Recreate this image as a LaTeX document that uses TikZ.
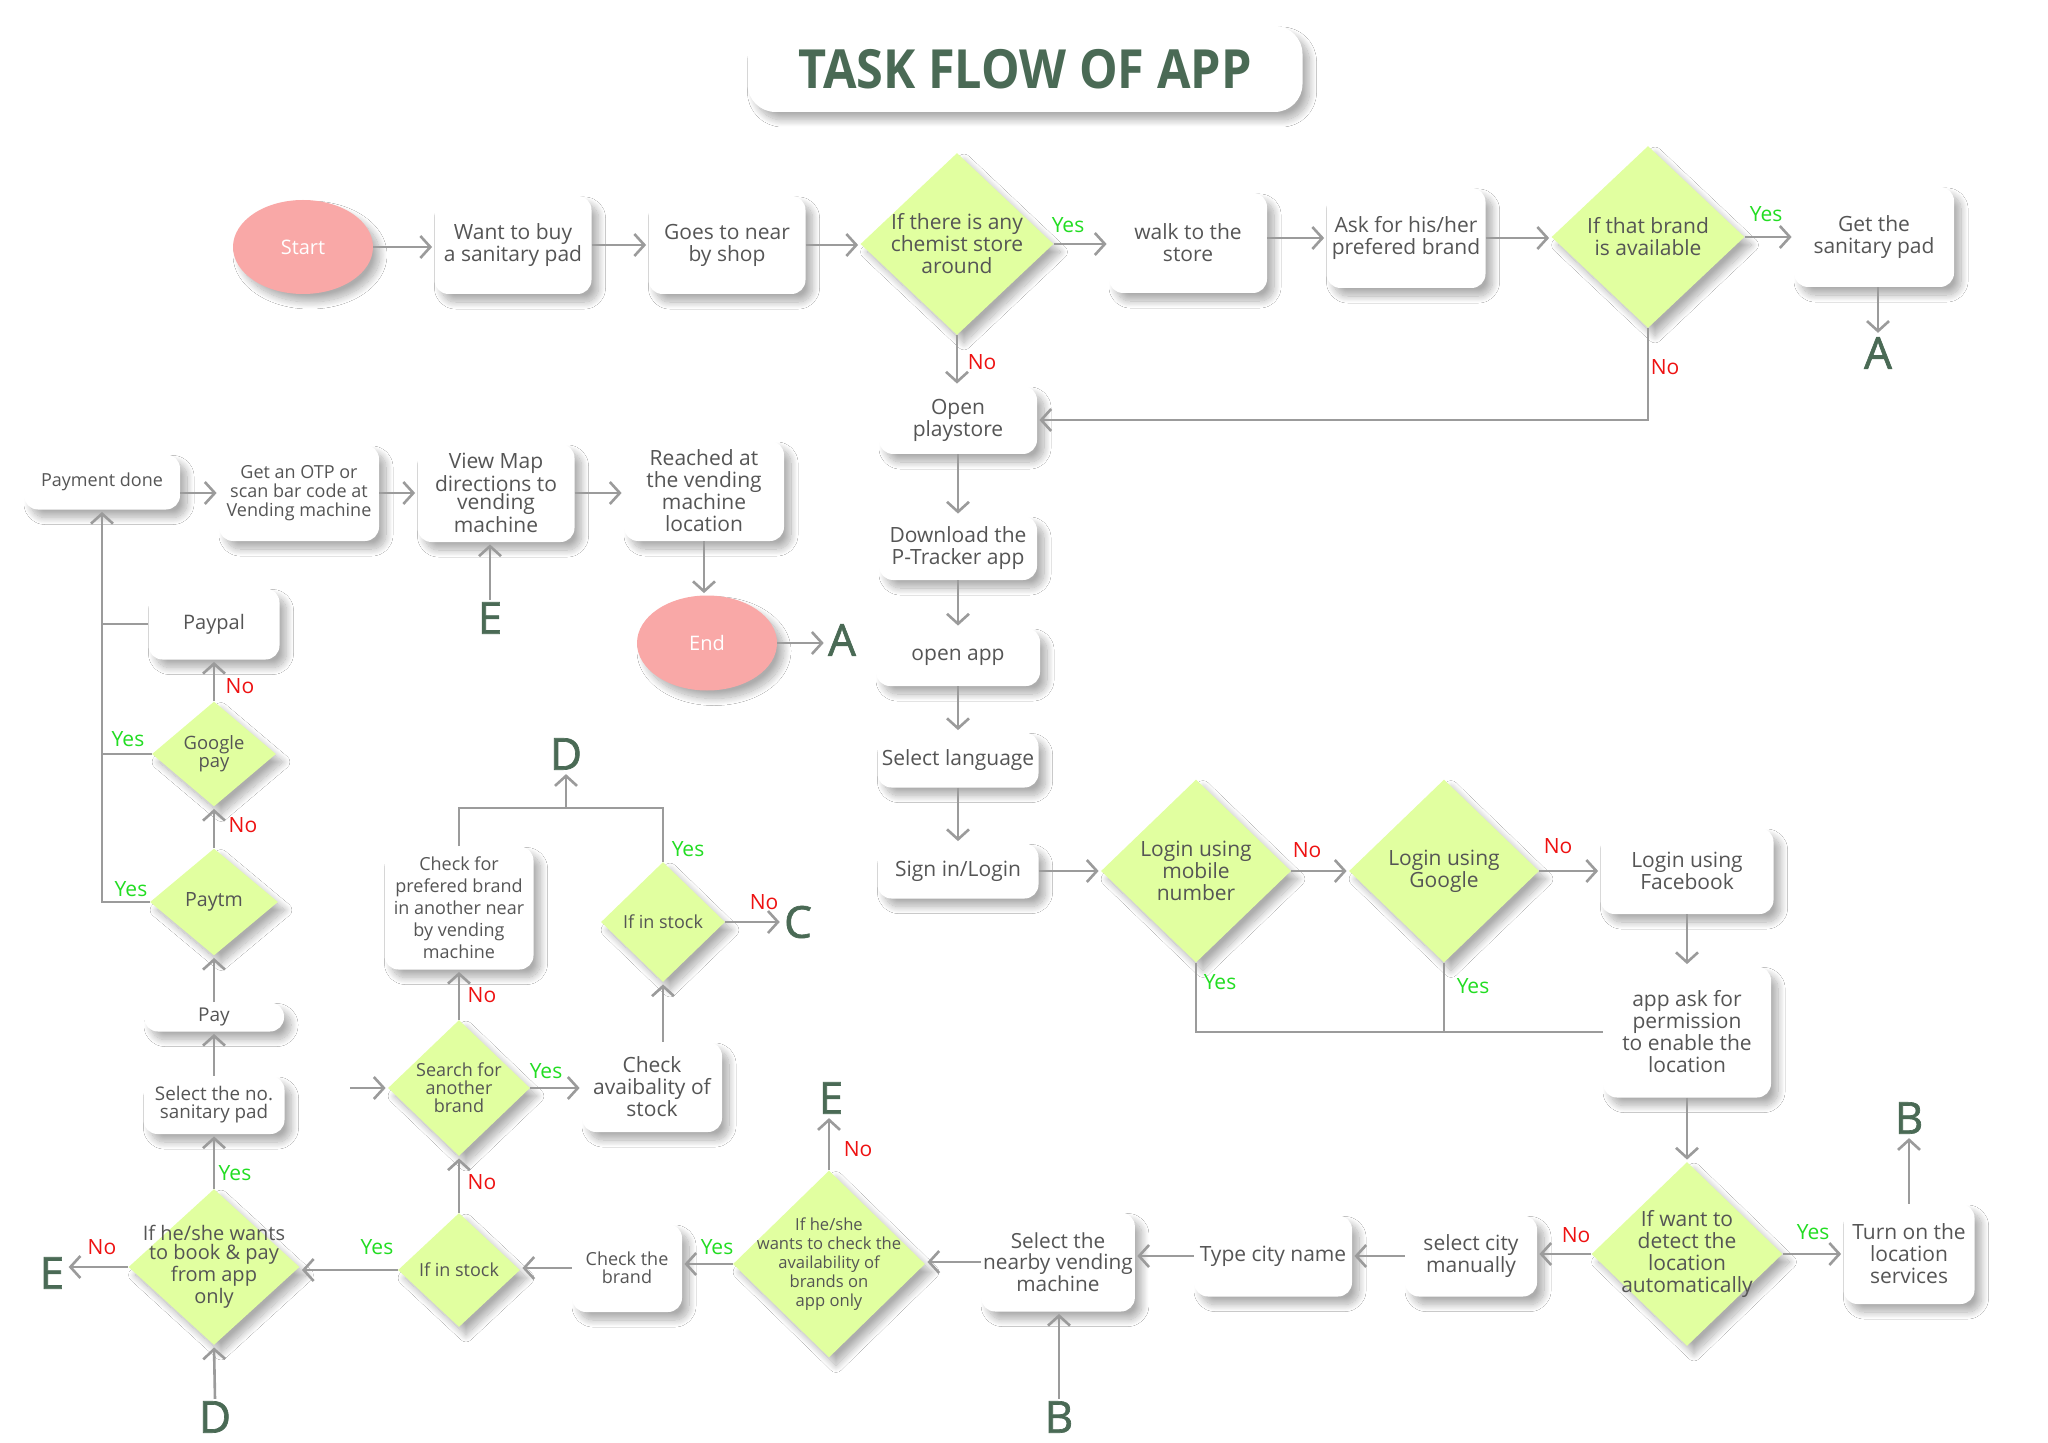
\documentclass[tikz,border=0pt]{standalone}
\usepackage{fontspec}
\setmainfont{Open Sans}
\newfontfamily\titlefont{Open Sans}[FakeStretch=0.9]
\newfontfamily\letterfont{Open Sans}[FakeBold=1.5]
\usetikzlibrary{shapes.geometric,arrows.meta,shadows.blur,calc}
\definecolor{txtc}{HTML}{555555}
\definecolor{linec}{HTML}{9B9B9B}
\definecolor{diac}{HTML}{E1FFA0}
\definecolor{pinkc}{HTML}{F9A8A7}
\definecolor{darkg}{HTML}{4A6A55}
\definecolor{yesc}{HTML}{22DD22}
\definecolor{noc}{HTML}{EE1111}
\newcommand\myfs[2]{\fontsize{#1pt}{#2pt}\selectfont}
\tikzset{
  shad/.style={blur shadow={shadow xshift=3.5pt,shadow yshift=-4pt,shadow blur radius=3.5pt,shadow blur steps=16,shadow opacity=32}},
  box/.style={shad, fill=white, rounded corners=7pt, align=center, inner sep=1pt, text=txtc, font=\myfs{10.5}{11}},
  dia/.style={shad, diamond, fill=diac, inner sep=0pt},
  oval/.style={shad, ellipse, fill=pinkc, text=white, inner sep=0pt, font=\myfs{10}{11}},
  arr/.style={draw=linec, line width=1.3pt, shorten >=1pt, -{Straight Barb[length=5pt,width=11pt]}},
  ln/.style={draw=linec, line width=1.3pt},
  yes/.style={text=yesc, font=\myfs{10.5}{11}, inner sep=0pt},
  no/.style={text=noc, font=\myfs{10.5}{11}, inner sep=0pt},
  letter/.style={text=darkg, font=\letterfont\myfs{22}{22}, inner sep=1pt},
  dtext/.style={align=center, text=txtc, inner sep=0pt, font=\myfs{10.5}{11}},
}
\begin{document}
\begin{tikzpicture}[x=0.5pt,y=-0.5pt]
\useasboundingbox (0,0) rectangle (2048,1443);
\fill[white] (0,0) rectangle (2048,1443);

% title
\node[box, rounded corners=14pt, minimum width=277.5pt, minimum height=43pt, text=darkg, font=\titlefont\bfseries\myfs{27}{27}] (title) at (1025,69) {TASK FLOW OF APP};

% ---- top row
\node[oval, minimum width=70pt, minimum height=47pt] (start) at (303,247) {Start};
\node[box, minimum width=78.5pt, minimum height=49pt] (want) at (513,245) {Want to buy\\a sanitary pad};
\node[box, minimum width=78.5pt, minimum height=49pt] (goes) at (727,245) {Goes to near\\by shop};
\node[dia, minimum width=96.5pt, minimum height=91pt, label={[dtext]center:If there is any\\chemist store\\around}] (d1) at (957,244) {};
\node[box, minimum width=79pt, minimum height=50pt] (walk) at (1188,243) {walk to the\\store};
\node[box, minimum width=79.5pt, minimum height=50pt] (ask) at (1406,238) {Ask for his/her\\prefered brand};
\node[dia, minimum width=96.5pt, minimum height=91pt, label={[dtext]center:If that brand\\is available}] (d2) at (1648,237) {};
\node[box, minimum width=80pt, minimum height=50pt] (getpad) at (1874,237) {Get the\\sanitary pad};
\node[letter] (A1) at (1878,353) {A};

% ---- column
\node[box, minimum width=79pt, minimum height=34pt] (openps) at (958,420) {Open\\playstore};
\node[box, minimum width=79pt, minimum height=32pt] (download) at (958,548) {Download the\\P-Tracker app};
\node[box, minimum width=82pt, minimum height=29pt] (openapp) at (958,657) {open app};
\node[box, minimum width=80.5pt, minimum height=27.5pt] (sellang) at (958,760) {Select language};
\node[box, minimum width=80.5pt, minimum height=27.5pt] (signin) at (958,871) {Sign in/Login};

% ---- login row
\node[dia, minimum width=95pt, minimum height=91.5pt, label={[dtext]center:Login using\\mobile\\number}] (lmobile) at (1196,871) {};
\node[dia, minimum width=95pt, minimum height=91.5pt, label={[dtext]center:Login using\\Google}] (lgoogle) at (1444,871) {};
\node[box, minimum width=86.5pt, minimum height=43pt] (lfb) at (1687,871) {Login using\\Facebook};
\node[box, minimum width=84pt, minimum height=65.5pt] (perm) at (1687,1032) {app ask for\\permission\\to enable the\\location};

% ---- bottom row
\node[dia, minimum width=95.5pt, minimum height=92pt, label={[dtext]center:If want to\\detect the\\location\\automatically}] (detect) at (1687,1254) {};
\node[box, minimum width=65.5pt, minimum height=50pt] (turnon) at (1909,1254) {Turn on the\\location\\services};
\node[letter] (B1) at (1909,1118) {B};
\node[box, minimum width=66pt, minimum height=40.5pt] (selcity) at (1471,1256) {select city\\manually};
\node[box, minimum width=79pt, minimum height=40.5pt] (typecity) at (1273,1256) {Type city name};
\node[box, minimum width=76.5pt, minimum height=49.5pt, font=\myfs{10.4}{10.8}] (selnear) at (1058,1262) {Select the\\nearby vending\\machine};
\node[letter] (B2) at (1059,1417) {B};
\node[dia, minimum width=96pt, minimum height=93.5pt, label={[dtext,font=\myfs{8.3}{9.5}]center:If he/she\\wants to check the\\availability of\\brands on\\app only}] (dch) at (829,1264) {};
\node[letter] (E1) at (831,1098) {E};
\node[box, minimum width=55pt, minimum height=44pt, font=\myfs{9}{9}] (checkbrand) at (627,1268) {Check the\\brand};
\node[dia, minimum width=61pt, minimum height=57pt, label={[dtext,font=\myfs{9}{10}]center:If in stock}] (instock1) at (459,1270) {};
\node[dia, minimum width=85.5pt, minimum height=78pt, label={[dtext,font=\myfs{10}{9.6}]center:If he/she wants\\to book \& pay\\from app\\only}] (bookpay) at (214,1267) {};
\node[letter] (E2) at (52,1273) {E};
\node[letter] (D2) at (215,1417) {D};

% ---- left column
\node[box, minimum width=70.5pt, minimum height=29pt, font=\myfs{9.4}{9}] (selno) at (214,1105) {Select the no.\\sanitary pad};
\node[box, minimum width=70pt, minimum height=14.5pt, rounded corners=7pt, font=\myfs{9.5}{10}] (pay) at (214,1017) {Pay};
\node[dia, minimum width=64pt, minimum height=53.5pt, label={[dtext,font=\myfs{9.8}{10}]center:Paytm}] (paytm) at (214,902) {};
\node[dia, minimum width=62pt, minimum height=52.5pt, label={[dtext,font=\myfs{9.2}{9}]center:Google\\pay}] (gpay) at (214,754) {};
\node[box, minimum width=65.5pt, minimum height=35.5pt, font=\myfs{10}{11}] (paypal) at (214,624) {Paypal};
\node[box, minimum width=78pt, minimum height=27.5pt, font=\myfs{9}{10}] (paydone) at (102,482) {Payment done};
\node[box, minimum width=80pt, minimum height=48pt, font=\myfs{9}{9.5}] (otp) at (299,493) {Get an OTP or\\scan bar code at\\Vending machine};
\node[box, minimum width=78.5pt, minimum height=49pt, font=\myfs{10.5}{9}] (viewmap) at (496,493) {View Map\\directions to\\vending\\machine};
\node[letter] (E3) at (490,618) {E};
\node[box, minimum width=80pt, minimum height=50pt] (reached) at (704,491) {Reached at\\the vending\\machine\\location};
\node[oval, minimum width=70pt, minimum height=47.5pt] (end) at (707,643) {End};
\node[letter] (A2) at (842,640) {A};

% ---- middle cluster
\node[box, minimum width=74.5pt, minimum height=61.5pt, font=\myfs{9}{11}] (checkfor) at (459,908) {Check for\\prefered brand\\in another near\\by vending\\machine};
\node[dia, minimum width=71pt, minimum height=68pt, label={[dtext,font=\myfs{9}{9}]center:Search for\\another\\brand}] (search) at (459,1088) {};
\node[box, minimum width=70pt, minimum height=45pt] (checkstock) at (652,1087) {Check\\avaibality of\\stock};
\node[dia, minimum width=62pt, minimum height=60pt, label={[dtext,font=\myfs{9}{10}]center:If in stock}] (instock2) at (663,922) {};
\node[letter] (C) at (798,922) {C};
\node[letter] (D1) at (566,754) {D};
\coordinate (jtop) at (566,808);
\coordinate (fin) at (350,1088);

% ---- connectors: top row
\draw[arr] (start.east) -- (start.east -| want.west);
\draw[arr] (want.east) -- (want.east -| goes.west);
\draw[arr] (goes.east) -- (goes.east -| d1.west);
\draw[arr] (d1.east) -- (d1.east -| walk.west) node[yes] at (1068,225) {Yes};
\draw[arr] (ask.west -| walk.east) -- (ask.west);
\draw[arr] (ask.east) -- (ask.east -| d2.west);
\draw[arr] (d2.east) -- (d2.east -| getpad.west) node[yes] at (1766,214) {Yes};
\draw[arr] (getpad.south -| A1.north) -- (A1.north);
\draw[arr] (d1.south) -- (d1.south |- openps.north) node[no] at (982,362) {No};
\draw[arr] (d2.south) |- (openps.east) node[no] at (1665,367) {No};

% column
\draw[arr] (openps.south) -- (download.north);
\draw[arr] (download.south) -- (openapp.north);
\draw[arr] (openapp.south) -- (sellang.north);
\draw[arr] (sellang.south) -- (signin.north);

% login
\draw[arr] (signin.east) -- (lmobile.west);
\draw[arr] (lmobile.east) -- (lgoogle.west) node[no] at (1307,850) {No};
\draw[arr] (lgoogle.east) -- (lfb.west) node[no] at (1558,846) {No};
\draw[ln] (lmobile.south) |- (perm.west) node[yes] at (1220,982) {Yes};
\draw[ln] (lgoogle.south) -- (lgoogle.south |- perm.west) node[yes] at (1473,986) {Yes};
\draw[arr] (lfb.south) -- (perm.north);
\draw[arr] (perm.south) -- (detect.north);

% bottom row
\draw[arr] (detect.east) -- (detect.east -| turnon.west) node[yes] at (1813,1232) {Yes};
\draw[arr] (turnon.north) -- (B1.south);
\draw[arr] (detect.west) -- (detect.west -| selcity.east) node[no] at (1576,1235) {No};
\draw[arr] (selcity.west) -- (selcity.west -| typecity.east);
\draw[arr] (typecity.west) -- (typecity.west -| selnear.east);
\draw[arr] (B2.north) -- (B2.north |- selnear.south);
\draw[arr] (selnear.west) -- (selnear.west -| dch.east);
\draw[arr] (dch.north) -- (dch.north |- E1.south) node[no] at (858,1149) {No};
\draw[arr] (dch.west) -- (dch.west -| checkbrand.east) node[yes] at (717,1247) {Yes};
\draw[arr] (checkbrand.west) -- (checkbrand.west -| instock1.east);
\draw[arr] (instock1.west) -- (instock1.west -| bookpay.east) node[yes] at (377,1247) {Yes};
\draw[arr] (bookpay.west) -- (bookpay.west -| E2.east) node[no] at (102,1247) {No};
\draw[arr] (D2.north) -- (bookpay.south);
\draw[arr] (bookpay.north) -- (selno.south) node[yes] at (235,1173) {Yes};

% left column
\draw[arr] (selno.north) -- (pay.south);
\draw[arr] (pay.north) -- (paytm.south);
\draw[arr] (paytm.north) -- (gpay.south) node[no] at (243,825) {No};
\draw[arr] (gpay.north) -- (paypal.south) node[no] at (240,686) {No};
\draw[arr] (paytm.west) -| (paydone.south) node[yes] at (131,889) {Yes};
\draw[ln] (gpay.west) -- (gpay.west -| paydone.south) node[yes] at (128,739) {Yes};
\draw[ln] (paypal.west) -- (paypal.west -| paydone.south);
\draw[arr] (otp.west -| paydone.east) -- (otp.west);
\draw[arr] (otp.east) -- (otp.east -| viewmap.west);
\draw[arr] (viewmap.east) -- (viewmap.east -| reached.west);
\draw[arr] (E3.north) -- (E3.north |- viewmap.south);
\draw[arr] (reached.south) -- (reached.south |- end.north);
\draw[arr] (end.east) -- (end.east -| A2.west);

% middle cluster
\draw[arr] (instock1.north) -- (search.south) node[no] at (482,1182) {No};
\draw[arr] (search.north) -- (checkfor.south) node[no] at (482,995) {No};
\draw[arr] (fin) -- (search.west);
\draw[arr] (search.east) -- (search.east -| checkstock.west) node[yes] at (546,1071) {Yes};
\draw[arr] (checkstock.north -| instock2.south) -- (instock2.south);
\draw[arr] (instock2.east) -- (instock2.east -| C.west) node[no] at (764,902) {No};
\draw[ln] (instock2.north) |- (jtop) node[yes] at (688,849) {Yes};
\draw[ln] (checkfor.north) |- (jtop);
\draw[arr] (jtop) -- (D1.south);
\end{tikzpicture}
\end{document}
